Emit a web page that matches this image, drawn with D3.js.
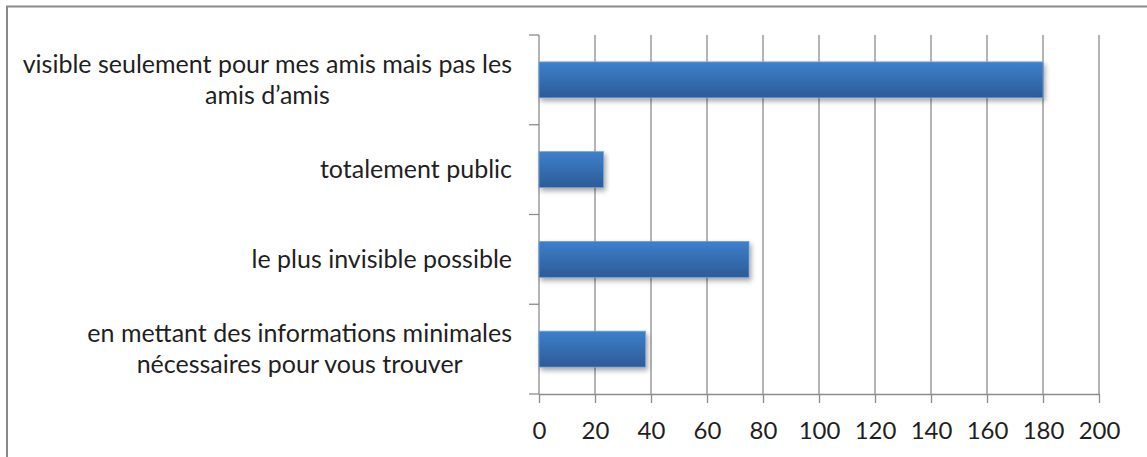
<!DOCTYPE html>
<html>
<head>
<meta charset="utf-8">
<script src="https://cdn.jsdelivr.net/npm/d3@7"></script>
<style>
    html, body { margin: 0; padding: 0; background: #fff; }
    svg { display: block; font-family: Lato, "Open Sans", sans-serif; }
    .cat-label { font-size: 25px; fill: #1f1f1f; }
    .x-axis text { font-size: 24px; fill: #1f1f1f; font-family: Lato, sans-serif; }
</style>
</head>
<body>
<svg id="chart" width="1147" height="457"></svg>
<script>
// categories, top to bottom
const categories = [
    "visible seulement pour mes amis mais pas les\namis d\u2019amis",
    "totalement public",
    "le plus invisible possible",
    "en mettant des informations minimales\nn\u00e9cessaires pour vous trouver"
];
const values = [180, 23, 75, 38];
const xTicks = [0, 20, 40, 60, 80, 100, 120, 140, 160, 180, 200];

const width = 1147, height = 457;
const margin = { top: 35, right: 48, bottom: 63, left: 539 };

const svg = d3.select("#chart");

svg.append("rect")
    .attr("width", width)
    .attr("height", height)
    .attr("fill", "#fff");

// outer chart border (only top and left show in the crop)
svg.append("path")
    .attr("d", `M7,${height} V6.5 H${width}`)
    .attr("fill", "none")
    .attr("stroke", "#8a8a8a")
    .attr("stroke-width", 2);

const x = d3.scaleLinear()
    .domain([0, 200])
    .range([margin.left, width - margin.right]);

const y = d3.scaleBand()
    .domain(categories)
    .range([margin.top, height - margin.bottom])
    .paddingInner(0.6)
    .paddingOuter(0.3);

const defs = svg.append("defs");

const grad = defs.append("linearGradient")
    .attr("id", "barGrad")
    .attr("x1", 0).attr("y1", 0)
    .attr("x2", 0).attr("y2", 1);
grad.append("stop").attr("offset", "0%").attr("stop-color", "#3d80cc");
grad.append("stop").attr("offset", "100%").attr("stop-color", "#2c5b97");

const shadow = defs.append("filter")
    .attr("id", "barShadow")
    .attr("x", "-5%").attr("y", "-20%")
    .attr("width", "115%").attr("height", "160%");
shadow.append("feDropShadow")
    .attr("dx", 2).attr("dy", 3)
    .attr("stdDeviation", 2.5)
    .attr("flood-color", "#000")
    .attr("flood-opacity", 0.35);

// vertical gridlines
svg.append("g")
    .selectAll("line")
    .data(xTicks.slice(1))
    .join("line")
    .attr("x1", d => x(d)).attr("x2", d => x(d))
    .attr("y1", margin.top).attr("y2", height - margin.bottom)
    .attr("stroke", "#8c8c8c")
    .attr("stroke-width", 1.3);

// x axis
const xAxis = svg.append("g")
    .attr("class", "x-axis")
    .attr("transform", `translate(0,${height - margin.bottom})`)
    .call(d3.axisBottom(x).tickValues(xTicks).tickSize(9).tickPadding(19).tickSizeOuter(0));
xAxis.select(".domain").attr("stroke", "#8c8c8c").attr("stroke-width", 1.3);
xAxis.selectAll(".tick line").attr("stroke", "#8c8c8c").attr("stroke-width", 1.3);

// y axis line with ticks at category boundaries
const half = y.step() * y.paddingInner() / 2;
const bounds = categories.map(c => y(c) - half).concat([y(categories[categories.length - 1]) + y.bandwidth() + half]);

svg.append("line")
    .attr("x1", x(0)).attr("x2", x(0))
    .attr("y1", margin.top).attr("y2", height - margin.bottom)
    .attr("stroke", "#8c8c8c")
    .attr("stroke-width", 1.3);

svg.append("g")
    .selectAll("line")
    .data(bounds)
    .join("line")
    .attr("x1", x(0) - 10).attr("x2", x(0))
    .attr("y1", d => d).attr("y2", d => d)
    .attr("stroke", "#8c8c8c")
    .attr("stroke-width", 1.3);

// bars
svg.append("g")
    .selectAll("rect")
    .data(categories)
    .join("rect")
    .attr("x", x(0))
    .attr("y", d => y(d))
    .attr("width", (d, i) => x(values[i]) - x(0))
    .attr("height", y.bandwidth())
    .attr("fill", "url(#barGrad)")
    .attr("stroke", "#6f9fd8")
    .attr("stroke-width", 0.8)
    .attr("filter", "url(#barShadow)");

// category labels: block right-aligned to the axis, lines centred inside the block
const lineGap = 31;
const labelRight = 512;
svg.append("g")
    .selectAll("text")
    .data(categories)
    .join("text")
    .attr("class", "cat-label")
    .attr("text-anchor", "middle")
    .each(function (d) {
        const lines = d.split("\n");
        const cy = y(d) + y.bandwidth() / 2;
        const top = cy - (lines.length - 1) * lineGap / 2;
        const spans = d3.select(this).selectAll("tspan")
            .data(lines)
            .join("tspan")
            .attr("y", (l, i) => top + i * lineGap)
            .attr("dy", "0.35em")
            .text(l => l);
        const maxW = d3.max(spans.nodes(), n => n.getComputedTextLength());
        spans.attr("x", labelRight - maxW / 2);
    });
</script>
</body>
</html>
